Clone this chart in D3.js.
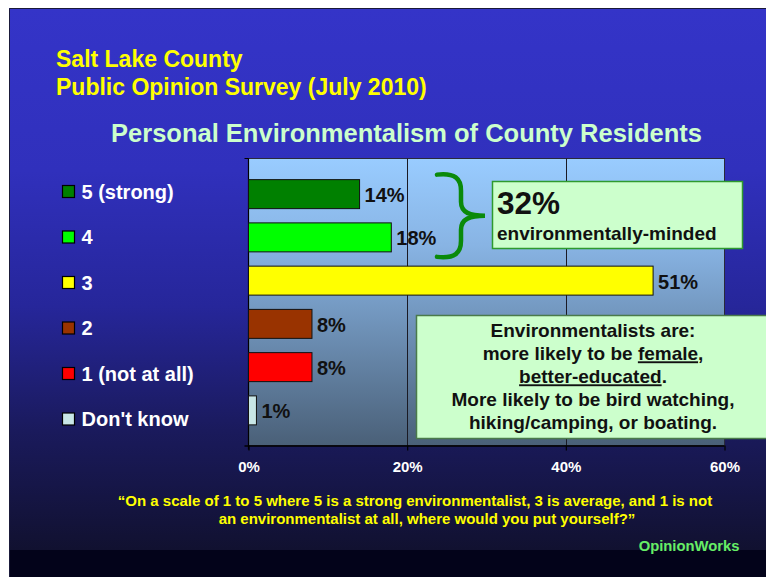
<!DOCTYPE html>
<html><head><meta charset="utf-8">
<script src="https://cdn.jsdelivr.net/npm/d3@7"></script>
<style>
html,body{margin:0;padding:0;background:#fff;}
svg{display:block;}
text{font-family:"Liberation Sans",Arial,sans-serif;font-weight:bold;}
</style></head>
<body>
<svg id="chart" width="766" height="577"></svg>
<script>
const categories = ["5 (strong)", "4", "3", "2", "1 (not at all)", "Don't know"];
const values = [14, 18, 51, 8, 8, 1];
const barColors = ["#008000", "#00ff00", "#ffff00", "#993300", "#ff0000", "#c8e6e6"];
const tickValues = [0, 20, 40, 60];
const titleLines = ["Salt Lake County", "Public Opinion Survey (July 2010)"];
const subtitle = "Personal Environmentalism of County Residents";
const questionLines = [
  "\u201cOn a scale of 1 to 5 where 5 is a strong environmentalist, 3 is average, and 1 is not",
  "an environmentalist at all, where would you put yourself?\u201d"
];
const callout1 = { big: "32%", small: "environmentally-minded" };
const callout2 = [
  [["Environmentalists are:", false]],
  [["more likely to be ", false], ["female", true], [",", false]],
  [["better-educated", true], [".", false]],
  [["More likely to be bird watching,", false]],
  [["hiking/camping, or boating.", false]]
];
const source = "OpinionWorks";

const svg = d3.select("#chart");
const defs = svg.append("defs");

const bg = defs.append("linearGradient").attr("id", "bg").attr("x1", 0).attr("y1", 0).attr("x2", 0).attr("y2", 1);
[[0, "#3434c8"], [0.3, "#3030bc"], [0.55, "#26269a"], [0.78, "#1a1a5c"], [1, "#111130"]]
  .forEach(([o, c]) => bg.append("stop").attr("offset", o).attr("stop-color", c));

const pg = defs.append("linearGradient").attr("id", "pg").attr("x1", 0).attr("y1", 0).attr("x2", 0).attr("y2", 1);
[[0, "#99ccff"], [0.3, "#88b4e4"], [1, "#4a6078"]]
  .forEach(([o, c]) => pg.append("stop").attr("offset", o).attr("stop-color", c));

// slide background
svg.append("rect").attr("x", 9).attr("y", 8).attr("width", 770).attr("height", 542).attr("fill", "url(#bg)");
svg.append("rect").attr("x", 9).attr("y", 550).attr("width", 770).attr("height", 30).attr("fill", "#03031a");
svg.append("path").attr("d", "M9.5,580 V8.5 H770").attr("fill", "none").attr("stroke", "#1a1a3a").attr("stroke-width", 1);

// titles
svg.append("g").selectAll("text").data(titleLines).join("text")
  .attr("x", 56).attr("y", (d, i) => 67 + i * 28)
  .attr("font-size", 23).attr("fill", "#ffff00").text(d => d);

svg.append("text").attr("x", 406.5).attr("y", 142).attr("text-anchor", "middle")
  .attr("font-size", 25.5).attr("fill", "#ccffcc").text(subtitle);

// plot area
const plot = { left: 248.5, right: 724.5, top: 158.5, bottom: 445.5 };
const x = d3.scaleLinear().domain([0, 60]).range([plot.left, plot.right]);
const y = d3.scaleBand().domain(categories).range([172.5, 432]).paddingInner(0.33).paddingOuter(0.165);

svg.append("rect").attr("x", plot.left).attr("y", plot.top)
  .attr("width", plot.right - plot.left).attr("height", plot.bottom - plot.top)
  .attr("fill", "url(#pg)").attr("stroke", "#2a2a3a").attr("stroke-width", 1);

svg.append("g").selectAll("line").data(tickValues.filter(t => t > 0 && t < 60)).join("line")
  .attr("x1", d => Math.round(x(d)) + 0.5).attr("x2", d => Math.round(x(d)) + 0.5)
  .attr("y1", plot.top).attr("y2", plot.bottom).attr("stroke", "#1a1a24").attr("stroke-width", 1);

// y axis line + end ticks
svg.append("path").attr("d", `M${plot.left},${plot.top} V${plot.bottom + 4} M${plot.left - 4},${plot.top} H${plot.left}`)
  .attr("stroke", "#000").attr("stroke-width", 1.2).attr("fill", "none");

// x axis
const xAxis = d3.axisBottom(x).tickValues(tickValues).tickSize(5).tickSizeOuter(0).tickFormat(d => d + "%");
const gx = svg.append("g").attr("transform", `translate(0,${plot.bottom})`).call(xAxis);
gx.select(".domain").attr("d", `M${plot.left - 4},0.5 H${plot.right}`).attr("stroke", "#000").attr("stroke-width", 1.4);
gx.selectAll(".tick line").attr("stroke", "#000").attr("stroke-width", 1.2);
gx.selectAll(".tick text").attr("fill", "#ffffff").attr("font-size", 15)
  .attr("font-family", "Liberation Sans, Arial, sans-serif").attr("font-weight", "bold")
  .attr("dy", null).attr("y", 26.5);

// bars
svg.append("g").selectAll("rect").data(values).join("rect")
  .attr("x", x(0)).attr("y", (d, i) => y(categories[i]))
  .attr("width", d => x(d) - x(0)).attr("height", y.bandwidth())
  .attr("fill", (d, i) => barColors[i]).attr("stroke", "#111").attr("stroke-width", 1);

svg.append("g").selectAll("text").data(values).join("text")
  .attr("x", d => x(d) + 5).attr("y", (d, i) => y(categories[i]) + y.bandwidth() / 2 + 8)
  .attr("font-size", 20).attr("fill", "#111").text(d => d + "%");

// legend
const ly = d3.scalePoint().domain(categories).range([191.5, 419]);
const lg = svg.append("g").selectAll("g").data(categories).join("g")
  .attr("transform", d => `translate(62.5,${ly(d)})`);
lg.append("rect").attr("x", 0).attr("y", -6).attr("width", 12).attr("height", 12)
  .attr("fill", (d, i) => barColors[i]).attr("stroke", "#000").attr("stroke-width", 1.2);
lg.append("text").attr("x", 19).attr("y", 7.3).attr("font-size", 20).attr("fill", "#ffffff").text(d => d);

// brace
const braceTop = y(categories[0]) - 5, braceBot = y(categories[1]) + y.bandwidth() + 5;
const bmid = (braceTop + braceBot) / 2;
svg.append("path")
  .attr("d", `M437,${braceTop} C455,${braceTop - 2} 461,${braceTop + 4} 461,${braceTop + 16}
              L461,${bmid - 14} C461,${bmid - 3} 470,${bmid} 485,${bmid}
              C470,${bmid} 461,${bmid + 3} 461,${bmid + 14}
              L461,${braceBot - 16} C461,${braceBot - 4} 455,${braceBot + 2} 437,${braceBot}`)
  .attr("fill", "none").attr("stroke", "#0a8a0a").attr("stroke-width", 4.5).attr("stroke-linecap", "round");

// callout 1
svg.append("rect").attr("x", 492.5).attr("y", 181.5).attr("width", 250).attr("height", 67)
  .attr("fill", "#ccffcc").attr("stroke", "#2e9a2e").attr("stroke-width", 1.5);
svg.append("text").attr("x", 497).attr("y", 214).attr("font-size", 31.5).attr("fill", "#111").text(callout1.big);
svg.append("text").attr("x", 497).attr("y", 239.5).attr("font-size", 19).attr("fill", "#111").text(callout1.small);

// callout 2
svg.append("rect").attr("x", 416.5).attr("y", 315.5).attr("width", 360).attr("height", 123)
  .attr("fill", "#ccffcc").attr("stroke", "#4a7a4a").attr("stroke-width", 1.5);
const c2 = svg.append("g").selectAll("text").data(callout2).join("text")
  .attr("x", 593).attr("y", (d, i) => 337.3 + i * 23).attr("text-anchor", "middle")
  .attr("font-size", 19).attr("fill", "#111");
c2.selectAll("tspan").data(d => d).join("tspan")
  .attr("text-decoration", d => d[1] ? "underline" : null)
  .style("text-decoration", d => d[1] ? "underline" : null)
  .text(d => d[0]);

// question
const qx = [415, 427];
svg.append("g").selectAll("text").data(questionLines).join("text")
  .attr("x", (d, i) => qx[i]).attr("y", (d, i) => 506 + i * 17.5).attr("text-anchor", "middle")
  .attr("font-size", 15).attr("fill", "#ffff00").text(d => d);

svg.append("text").attr("x", 739.5).attr("y", 550.5).attr("text-anchor", "end")
  .attr("font-size", 14.8).attr("fill", "#66ee66").text(source);
</script>
</body></html>
